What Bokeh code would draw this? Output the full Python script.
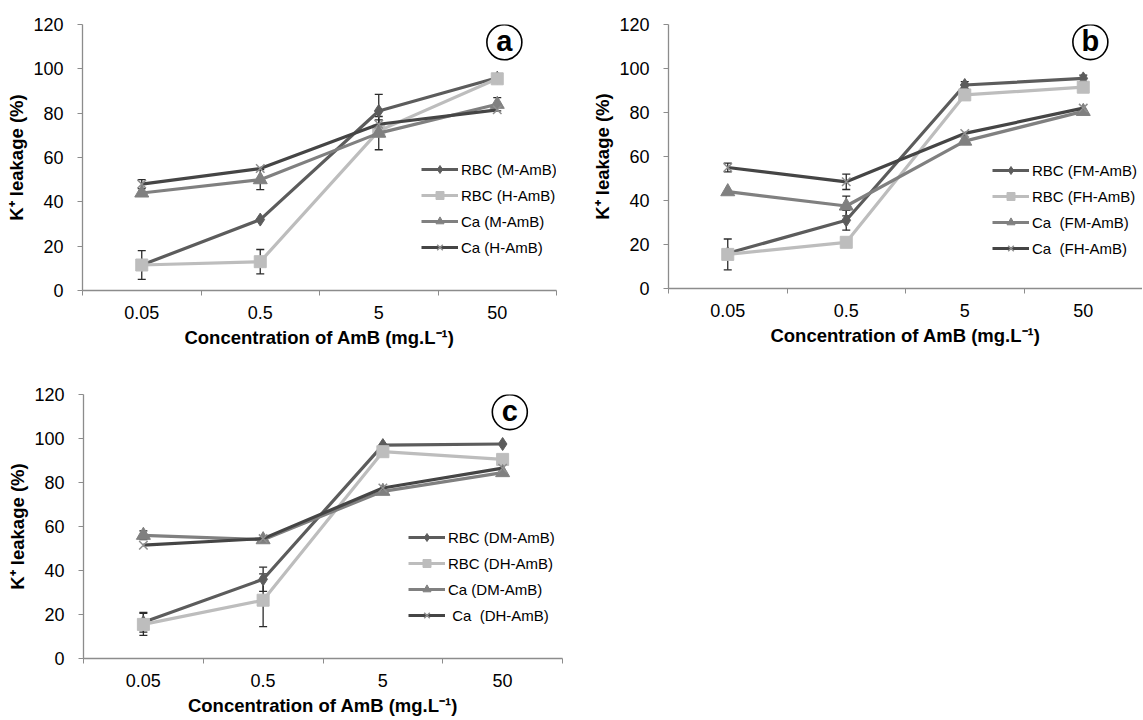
from bokeh.plotting import figure
from bokeh.models import (ColumnDataSource, Range1d, FixedTicker, Whisker, TeeHead,
                          Legend)
from bokeh.layouts import column, row
from bokeh.embed import file_html
from bokeh.resources import INLINE
from bokeh.core.properties import value

# ---------------- data ----------------
conc = ["0.05", "0.5", "5", "50"]
y_ticks = [0, 20, 40, 60, 80, 100, 120]

# panel a
names_a = ["RBC (M-AmB)", "RBC (H-AmB)", "Ca (M-AmB)", "Ca (H-AmB)"]
rbc_m_a = [11.5, 32, 81, 96]
rbc_m_a_err = [0, 0, 7.5, 0]
rbc_h_a = [11.5, 13, 72, 95.5]
rbc_h_a_err = [6.5, 5.5, 0, 0]
ca_m_a = [44, 50, 71, 84]
ca_m_a_err = [0, 4.5, 7.5, 3]
ca_h_a = [48, 55, 75, 81.5]
ca_h_a_err = [2, 0, 2, 0]

# panel b
names_b = ["RBC (FM-AmB)", "RBC (FH-AmB)", "Ca  (FM-AmB)", "Ca  (FH-AmB)"]
rbc_m_b = [16, 31, 92.5, 95.5]
rbc_m_b_err = [0, 4.5, 1.5, 1.5]
rbc_h_b = [15.5, 21, 88, 91.5]
rbc_h_b_err = [7, 0, 0, 0]
ca_m_b = [44, 37.5, 67, 80.5]
ca_m_b_err = [0, 4.5, 0, 0]
ca_h_b = [55, 48.5, 70.5, 82]
ca_h_b_err = [2, 3.5, 0, 0]

# panel c
names_c = ["RBC (DM-AmB)", "RBC (DH-AmB)", "Ca (DM-AmB)", " Ca  (DH-AmB)"]
rbc_m_c = [16.5, 36, 97, 97.5]
rbc_m_c_err = [4.5, 5.5, 0, 0]
rbc_h_c = [15.5, 26.5, 94, 90.5]
rbc_h_c_err = [5, 12, 0, 0]
ca_m_c = [56, 54, 76, 84.5]
ca_m_c_err = [2, 0, 0, 0]
ca_h_c = [51.5, 54.5, 77.5, 86.5]
ca_h_c_err = [0, 0, 0, 0]

# ---------------- styles ----------------
STYLES = [
    dict(color="#5c5c5c", marker="diamond", size=13, mline="#5c5c5c"),
    dict(color="#bdbdbd", marker="square", size=12, mline="#bdbdbd"),
    dict(color="#808080", marker="triangle", size=14, mline="#808080"),
    dict(color="#454545", marker="x", size=12, mline="#8f8f8f"),
]
AXIS_COLOR = "#8c8c8c"
FONT = "Liberation Sans"


def make_panel(letter, names, series, errs, frame_w, frame_h,
               bl, br, bt, bb, legend_xy):
    xs = [i + 1 for i in range(len(conc))]
    p = figure(frame_width=frame_w, frame_height=frame_h,
               min_border_left=bl, min_border_right=br,
               min_border_top=bt, min_border_bottom=bb,
               x_range=Range1d(0.5, len(conc) + 0.5), y_range=Range1d(0, 120),
               output_backend="svg", toolbar_location=None,
               background_fill_color="white", border_fill_color="white")
    p.outline_line_color = None
    p.xgrid.visible = False
    p.ygrid.visible = False

    for name, vals, err, st in zip(names, series, errs, STYLES):
        p.line(xs, vals, line_color=st["color"], line_width=3.2,
               legend_label=name)
        if st["marker"] == "x":
            p.scatter(xs, vals, marker="x", size=st["size"],
                      line_color=st["mline"], line_width=1.5,
                      legend_label=name)
        else:
            p.scatter(xs, vals, marker=st["marker"], size=st["size"],
                      fill_color=st["color"], line_color=st["color"],
                      legend_label=name)
    for vals, err in zip(series, errs):
        bx = [x for x, e in zip(xs, err) if e > 0]
        up = [v + e for v, e in zip(vals, err) if e > 0]
        lo = [v - e for v, e in zip(vals, err) if e > 0]
        if bx:
            src = ColumnDataSource(dict(x=bx, upper=up, lower=lo))
            w = Whisker(base="x", upper="upper", lower="lower", source=src,
                        line_color="#2b2b2b", line_width=1.3,
                        upper_head=TeeHead(size=8, line_color="#2b2b2b", line_width=1.3),
                        lower_head=TeeHead(size=8, line_color="#2b2b2b", line_width=1.3))
            p.add_layout(w)

    # circled panel letter
    p.scatter([len(conc) + 0.06], [112], marker="circle", size=35,
              fill_color="white", line_color="black", line_width=1.6)
    p.text([len(conc) + 0.06], [112], text=[letter], text_align="center",
           text_baseline="middle", text_font=value(FONT),
           text_font_style="bold", text_font_size="29px", text_color="black",
           y_offset=-1)

    # axes
    xa = p.xaxis[0]
    xa.ticker = FixedTicker(ticks=xs, minor_ticks=[x - 0.5 for x in xs] + [xs[-1] + 0.5])
    xa.major_label_overrides = {x: c for x, c in zip(xs, conc)}
    xa.major_tick_line_color = None
    xa.minor_tick_line_color = AXIS_COLOR
    xa.minor_tick_out = 5
    xa.minor_tick_in = 0
    xa.axis_line_color = AXIS_COLOR
    xa.axis_line_width = 1.3
    xa.major_label_standoff = 9
    xa.major_label_text_font = FONT
    xa.major_label_text_font_size = "18px"
    xa.major_label_text_color = "black"
    xa.axis_label = "Concentration of AmB (mg.L\u207b\u00b9)"
    xa.axis_label_text_font = FONT
    xa.axis_label_text_font_style = "bold"
    xa.axis_label_text_font_size = "18.5px"
    xa.axis_label_text_color = "black"
    xa.axis_label_standoff = 5

    ya = p.yaxis[0]
    ya.ticker = FixedTicker(ticks=y_ticks)
    ya.minor_tick_line_color = None
    ya.major_tick_line_color = AXIS_COLOR
    ya.major_tick_out = 5
    ya.major_tick_in = 0
    ya.axis_line_color = AXIS_COLOR
    ya.axis_line_width = 1.3
    ya.major_label_standoff = 14
    ya.major_label_text_font = FONT
    ya.major_label_text_font_size = "18px"
    ya.major_label_text_color = "black"
    ya.axis_label = "K\u207a leakage (%)"
    ya.axis_label_text_font = FONT
    ya.axis_label_text_font_style = "bold"
    ya.axis_label_text_font_size = "18.5px"
    ya.axis_label_text_color = "black"
    ya.axis_label_standoff = 3

    lg = p.legend[0]
    lg.location = legend_xy
    lg.background_fill_alpha = 0
    lg.border_line_color = None
    lg.padding = 0
    lg.margin = 0
    lg.spacing = 6
    lg.glyph_width = 37
    lg.glyph_height = 20
    lg.label_height = 20
    lg.label_standoff = 3
    lg.label_text_font = FONT
    lg.label_text_font_size = "15px"
    lg.label_text_color = "black"
    return p


pa = make_panel("a", names_a, [rbc_m_a, rbc_h_a, ca_m_a, ca_h_a],
                [rbc_m_a_err, rbc_h_a_err, ca_m_a_err, ca_h_a_err],
                474, 266, 82, 30, 22, 82, (339, 33))
pb = make_panel("b", names_b, [rbc_m_b, rbc_h_b, ca_m_b, ca_h_b],
                [rbc_m_b_err, rbc_h_b_err, ca_m_b_err, ca_h_b_err],
                474, 264, 82, 0, 24, 82, (324, 30))
pc = make_panel("c", names_c, [rbc_m_c, rbc_h_c, ca_m_c, ca_h_c],
                [rbc_m_c_err, rbc_h_c_err, ca_m_c_err, ca_h_c_err],
                479, 264, 83, 10, 24, 62, (325, 33))

layout = column(row(pa, pb), pc)
open("out.html", "w").write(file_html(layout, INLINE))
